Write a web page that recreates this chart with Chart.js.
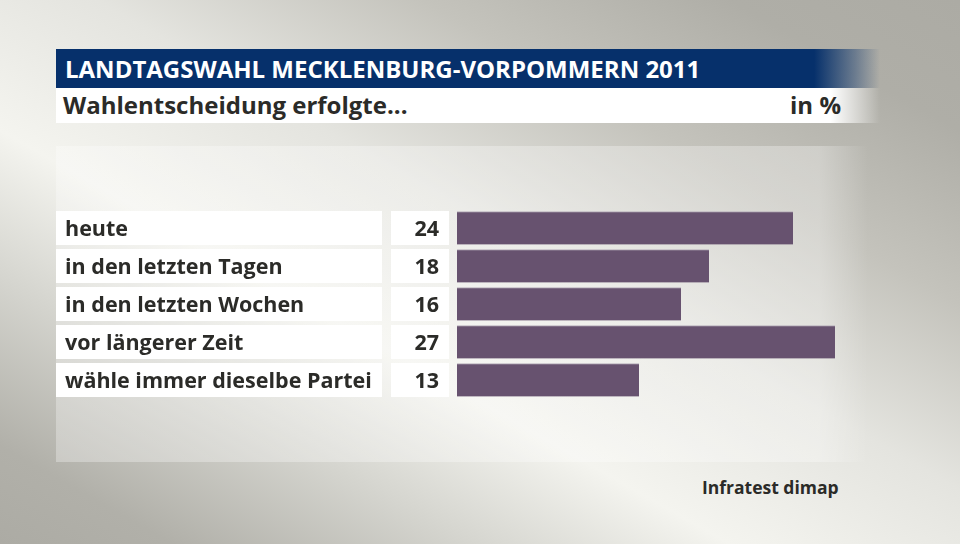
<!DOCTYPE html>
<html>
<head>
<meta charset="utf-8">
<script src="https://cdn.jsdelivr.net/npm/chart.js@4.4.1/dist/chart.umd.min.js"></script>
<style>
  html, body { margin: 0; padding: 0; }
  body {
    width: 960px; height: 544px; position: relative; overflow: hidden;
    font-family: "Open Sans", sans-serif;
    background: linear-gradient(to top right, #acaba4 0%, #b1b0a9 9%, #d6d6d0 25%, #f4f4ef 38%, #e4e4df 55%, #c4c3bc 72%, #afaea7 88%, #acaba4 100%);
  }
  .panel {
    position: absolute; left: 56px; top: 146px; width: 812px; height: 316px;
    background: linear-gradient(to right, rgba(255,255,255,0.3) 0%, rgba(255,255,255,0.3) 94%, rgba(255,255,255,0) 100%);
  }
  .title {
    position: absolute; left: 56px; top: 49px; width: 824px; height: 39px;
    background: linear-gradient(to right, #06306b 0%, #06306b 92%, rgba(6,48,107,0.4) 97%, rgba(6,48,107,0) 100%);
    color: #fff; font-weight: 700; font-size: 24px; line-height: 39px;
    padding-left: 9px; box-sizing: border-box; white-space: nowrap;
  }
  .subtitle {
    position: absolute; left: 56px; top: 88px; width: 824px; height: 35px;
    background: linear-gradient(to right, #fff 0%, #fff 94%, rgba(255,255,255,0) 100%);
    color: #2b2b28; font-weight: 700; font-size: 24px; line-height: 33px;
    padding-left: 7px; box-sizing: border-box; white-space: nowrap;
  }
  .unit { position: absolute; right: 39px; top: 0; }
  .source {
    position: absolute; left: 702px; top: 475px;
    color: #2b2b28; font-weight: 700; font-size: 17.5px;
  }
  canvas { position: absolute; left: 0; top: 0; }
</style>
</head>
<body>
<div class="panel"></div>
<div class="title">LANDTAGSWAHL MECKLENBURG-VORPOMMERN 2011</div>
<div class="subtitle">Wahlentscheidung erfolgte...<span class="unit">in %</span></div>
<div class="source">Infratest dimap</div>
<canvas id="chart" width="960" height="544"></canvas>
<script>
const categories = ['heute', 'in den letzten Tagen', 'in den letzten Wochen', 'vor längerer Zeit', 'wähle immer dieselbe Partei'];
const values = [24, 18, 16, 27, 13];

// label and value boxes drawn left of the bars, aligned on the y scale
const rowBoxes = {
  id: 'rowBoxes',
  afterDatasetsDraw(chart) {
    const ctx = chart.ctx;
    const y = chart.scales.y;
    ctx.save();
    categories.forEach((cat, i) => {
      const cy = y.getPixelForValue(i);
      const top = Math.round(cy - 17);
      ctx.fillStyle = '#ffffff';
      ctx.fillRect(56, top, 326, 34);
      ctx.fillRect(391, top, 58, 34);
      ctx.fillStyle = '#2b2b28';
      ctx.font = '700 21.5px "Open Sans"';
      ctx.textBaseline = 'alphabetic';
      ctx.textAlign = 'left';
      ctx.fillText(cat, 65, cy + 8);
      ctx.textAlign = 'right';
      ctx.fillText(String(values[i]), 439, cy + 8);
    });
    ctx.restore();
  }
};

new Chart(document.getElementById('chart'), {
  type: 'bar',
  data: {
    labels: categories,
    datasets: [{
      data: values,
      backgroundColor: '#67526f',
      borderColor: '#b7aeba',
      borderWidth: {top: 1, right: 0, bottom: 0, left: 0},
      borderSkipped: false,
      barThickness: 33
    }]
  },
  options: {
    indexAxis: 'y',
    responsive: false,
    animation: false,
    layout: { padding: { left: 457, right: 83, top: 209, bottom: 145 } },
    scales: {
      x: { display: false, min: 0, max: 30 },
      y: { display: false }
    },
    plugins: { legend: { display: false }, tooltip: { enabled: false } }
  },
  plugins: [rowBoxes]
});
</script>
</body>
</html>
